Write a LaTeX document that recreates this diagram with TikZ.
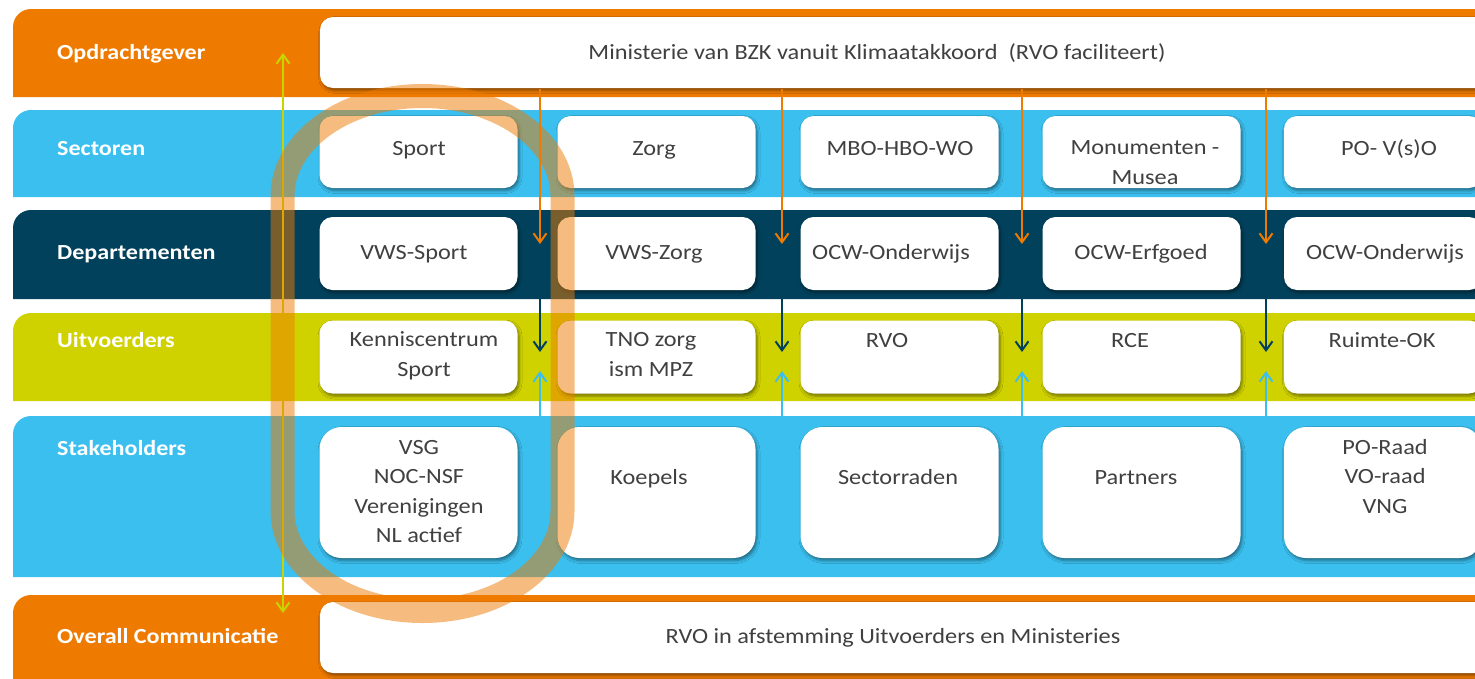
\documentclass[tikz,border=0pt]{standalone}
\usepackage{fontspec}
\setmainfont{Carlito}[FakeStretch=1.12]
\usetikzlibrary{arrows.meta,shadows.blur}
\definecolor{cOrange}{HTML}{EE7B00}
\definecolor{cBlue}{HTML}{3BBFEE}
\definecolor{cNavy}{HTML}{02415B}
\definecolor{cLime}{HTML}{D0D200}
\definecolor{cYel}{HTML}{C8D400}
\definecolor{cText}{HTML}{404040}
\newcommand\myband[3]{\fill[#1] (13,#3) -- (13,#2+18) arc[start angle=180,end angle=90,radius=18pt] -- (1480,#2) -- (1480,#3) -- cycle;}
\begin{document}
\begin{tikzpicture}[x=1pt,y=-1pt,
  lbl/.style={anchor=base west,text=white,font=\fontsize{21.5}{26}\selectfont\bfseries,inner sep=0},
  wbox/.style={fill=white,rounded corners=13pt,draw=none,inner sep=0,
    blur shadow={shadow xshift=1.5pt,shadow yshift=-2.5pt,shadow blur radius=3pt,shadow opacity=45}},
  cbox/.style={wbox,minimum width=198pt,minimum height=73pt},
  tbox/.style={wbox,rounded corners=22pt,minimum width=198pt,minimum height=131pt},
  txt/.style={text=cText,font=\fontsize{21.7}{29.5}\selectfont,align=center,inner sep=0,anchor=base},
  arr/.style={line width=2pt,draw=#1,-{Straight Barb[length=9pt,width=13pt]}},
]
\useasboundingbox (0,0) rectangle (1475,678);
\clip (0,0) rectangle (1475,678);
\fill[white] (0,0) rectangle (1475,678);
% bands
\myband{cOrange}{9}{97}
\myband{cBlue}{110}{197}
\myband{cNavy}{210}{299}
\myband{cLime}{313}{401}
\myband{cBlue}{416}{577}
\myband{cOrange}{595}{690}
% band labels
\node[lbl] (lOG) at (57,59) {Opdrachtgever};
\node[lbl] (lSE) at (57,155) {Sectoren};
\node[lbl] (lDE) at (57,259) {Departementen};
\node[lbl] (lUI) at (57,347) {Uitvoerders};
\node[lbl] (lST) at (57,455) {Stakeholders};
\node[lbl] (lOC) at (57,643) {Overall Communicatie};
% top / bottom wide boxes
\node[wbox,minimum width=1180pt,minimum height=71pt] (top) at (910,52.5) {};
\node[txt] (topt) at (877,59) {Ministerie van BZK vanuit Klimaatakkoord\ \ (RVO faciliteert)};
\node[wbox,minimum width=1180pt,minimum height=71pt] (bot) at (910,637.5) {};
\node[txt] (bott) at (893,643) {RVO in afstemming Uitvoerders en Ministeries};
% sectoren
\node[cbox,minimum height=72pt] (s1) at (418.5,152) {};
\node[cbox,minimum height=72pt] (s2) at (656.5,152) {};
\node[cbox,minimum height=72pt] (s3) at (899.5,152) {};
\node[cbox,minimum height=72pt] (s4) at (1141.5,152) {};
\node[cbox,minimum height=72pt] (s5) at (1383,152) {};
\node[txt] (s1t) at (419,155) {Sport};
\node[txt] (s2t) at (654,155) {Zorg};
\node[txt] (s3t) at (900,155) {MBO-HBO-WO};
\node[txt] (s4t) at (1145,184) {Monumenten -\\Musea};
\node[txt] (s5t) at (1389,155) {PO- V(s)O};
% departementen
\node[cbox] (d1) at (418.5,253.5) {};
\node[cbox] (d2) at (656.5,253.5) {};
\node[cbox] (d3) at (899.5,253.5) {};
\node[cbox] (d4) at (1141.5,253.5) {};
\node[cbox] (d5) at (1383,253.5) {};
\node[txt] (d1t) at (414,259) {VWS-Sport};
\node[txt] (d2t) at (654,259) {VWS-Zorg};
\node[txt] (d3t) at (891,259) {OCW-Onderwijs};
\node[txt] (d4t) at (1141,259) {OCW-Erfgoed};
\node[txt] (d5t) at (1385,259) {OCW-Onderwijs};
% uitvoerders
\node[cbox] (u1) at (418.5,357) {};
\node[cbox] (u2) at (656.5,357) {};
\node[cbox] (u3) at (899.5,357) {};
\node[cbox] (u4) at (1141.5,357) {};
\node[cbox] (u5) at (1383,357) {};
\node[txt] (u1t) at (424,376) {Kenniscentrum\\Sport};
\node[txt] (u2t) at (651,376) {TNO zorg\\ism MPZ};
\node[txt] (u3t) at (887,347) {RVO};
\node[txt] (u4t) at (1130,347) {RCE};
\node[txt] (u5t) at (1382,347) {Ruimte-OK};
% stakeholders
\node[tbox] (k1) at (418.5,492.5) {};
\node[tbox] (k2) at (656.5,492.5) {};
\node[tbox] (k3) at (899.5,492.5) {};
\node[tbox] (k4) at (1141.5,492.5) {};
\node[tbox] (k5) at (1383,492.5) {};
\node[txt] (k1t) at (419,542.5) {VSG\\NOC-NSF\\Verenigingen\\NL actief};
\node[txt] (k2t) at (649,484) {Koepels};
\node[txt] (k3t) at (898,484) {Sectorraden};
\node[txt] (k4t) at (1136,484) {Partners};
\node[txt] (k5t) at (1385,513) {PO-Raad\\VO-raad\\VNG};
% arrows
\foreach \i/\x in {1/540,2/782,3/1022,4/1266}{
  \coordinate (oS\i) at (\x,89);
  \coordinate (oE\i) at (\x,244);
  \coordinate (nS\i) at (\x,299);
  \coordinate (nE\i) at (\x,352);
  \coordinate (bS\i) at (\x,417);
  \coordinate (bE\i) at (\x,371);
  \draw[arr=cOrange] (oS\i) -- (oE\i);
  \draw[arr=cNavy] (nS\i) -- (nE\i);
  \draw[arr=cBlue] (bS\i) -- (bE\i);
}
\coordinate (yT) at (283,53);
\coordinate (yB) at (283,613);
\draw[line width=2pt,draw=cYel,{Straight Barb[length=9pt,width=13pt]}-{Straight Barb[length=9pt,width=13pt]}] (yT) -- (yB);
% highlight ring
\draw[line width=24pt,draw=cOrange,draw opacity=0.5]
  (282.5,196) arc[start angle=180,end angle=0,x radius=140pt,y radius=100pt]
  -- (562.5,511) arc[start angle=0,end angle=-180,x radius=140pt,y radius=100pt] -- cycle;
\end{tikzpicture}
\end{document}
